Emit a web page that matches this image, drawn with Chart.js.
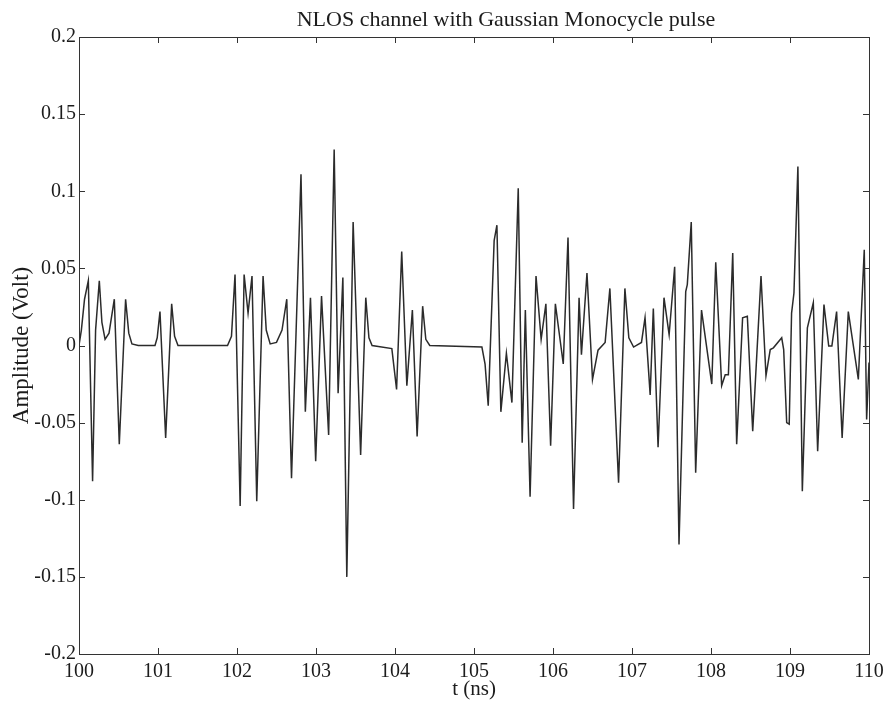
<!DOCTYPE html>
<html><head><meta charset="utf-8">
<script src="https://cdn.jsdelivr.net/npm/chart.js@4/dist/chart.umd.min.js"></script>
<style>html,body{margin:0;padding:0;background:#fff;}canvas{display:block;}</style>
</head><body>
<canvas id="c" width="894" height="713"></canvas>
<script>
const TITLE = 'NLOS channel with Gaussian Monocycle pulse';
const X_LABEL = 't (ns)';
const Y_LABEL = 'Amplitude (Volt)';
const xTickValues = [100,101,102,103,104,105,106,107,108,109,110];
const xTickLabels = ['100','101','102','103','104','105','106','107','108','109','110'];
const yTickValues = [-0.2,-0.15,-0.1,-0.05,0,0.05,0.1,0.15,0.2];
const yTickLabels = ['-0.2','-0.15','-0.1','-0.05','0','0.05','0.1','0.15','0.2'];

const tValues = [
100.00,100.03,100.07,100.118,100.172,100.21,100.257,100.29,100.33,100.38,100.447,100.51,100.59,100.63,100.67,100.75,
100.962,100.99,101.025,101.097,101.173,101.21,101.253,
101.88,101.93,101.975,102.04,102.09,102.14,102.19,102.25,102.33,102.37,102.42,102.50,102.57,102.63,102.69,102.81,
102.865,102.93,102.996,103.07,103.16,103.23,103.28,103.34,103.39,103.47,103.565,103.63,103.67,103.71,
103.96,104.02,104.085,104.15,104.22,104.28,104.35,104.39,104.44,
105.10,105.14,105.18,105.255,105.29,105.34,105.41,105.48,105.56,105.61,105.65,105.71,105.785,105.85,105.91,105.97,
106.03,106.13,106.19,106.26,106.33,106.36,106.43,106.50,106.57,106.66,106.72,106.83,106.91,106.96,107.02,107.12,
107.165,107.23,107.27,107.33,107.405,107.47,107.54,107.595,107.68,107.70,107.75,107.806,107.88,108.01,108.06,108.135,
108.18,108.22,108.275,108.325,108.40,108.46,108.528,108.633,108.696,108.75,108.79,108.895,108.92,108.958,108.99,
109.02,109.05,109.10,109.156,109.22,109.295,109.35,109.43,109.49,109.53,109.59,109.66,109.738,109.865,109.94,109.97,110.00
];
const ampValues = [
0.000,0.010,0.030,0.042,-0.088,0.010,0.042,0.015,0.004,0.008,0.030,-0.064,0.030,0.008,0.001,0.000,
0.000,0.005,0.022,-0.060,0.027,0.006,0.000,
0.000,0.006,0.046,-0.104,0.046,0.021,0.045,-0.101,0.045,0.010,0.001,0.002,0.010,0.030,-0.086,0.111,
-0.043,0.031,-0.075,0.032,-0.058,0.127,-0.031,0.044,-0.150,0.080,-0.071,0.031,0.005,0.000,
-0.002,-0.0285,0.061,-0.026,0.023,-0.059,0.0255,0.004,0.000,
-0.001,-0.012,-0.039,0.068,0.078,-0.043,-0.005,-0.037,0.102,-0.063,0.023,-0.098,0.045,0.004,0.027,-0.065,
0.027,-0.012,0.070,-0.106,0.031,-0.006,0.047,-0.022,-0.003,0.002,0.037,-0.089,0.037,0.005,-0.001,0.002,
0.018,-0.032,0.024,-0.066,0.031,0.007,0.051,-0.129,0.035,0.0395,0.080,-0.0825,0.023,-0.025,0.054,-0.026,
-0.019,-0.019,0.060,-0.064,0.018,0.019,-0.0555,0.045,-0.0195,-0.0026,-0.0015,0.005,-0.0026,-0.050,-0.051,
0.021,0.034,0.116,-0.0945,0.0115,0.0277,-0.0685,0.0266,-0.0004,-0.0004,0.022,-0.060,0.022,-0.022,0.062,-0.048,-0.011
];

const FONT = 'Liberation Serif, Times New Roman, serif';
const TEXT_COLOR = '#1c1c1c';

const framePlugin = {
  id: 'frame',
  afterDraw(chart) {
    const {ctx, chartArea: a, scales} = chart;
    ctx.save();
    ctx.strokeStyle = '#333';
    ctx.lineWidth = 1;
    ctx.strokeRect(a.left + 0.5, a.top + 0.5, a.right - a.left, a.bottom - a.top);
    const L = 6;
    ctx.beginPath();
    scales.x.ticks.forEach(t => {
      const px = Math.round(scales.x.getPixelForValue(t.value)) + 0.5;
      ctx.moveTo(px, a.bottom); ctx.lineTo(px, a.bottom - L);
      ctx.moveTo(px, a.top); ctx.lineTo(px, a.top + L);
    });
    scales.y.ticks.forEach(t => {
      const py = Math.round(scales.y.getPixelForValue(t.value)) + 0.5;
      ctx.moveTo(a.left, py); ctx.lineTo(a.left + L, py);
      ctx.moveTo(a.right, py); ctx.lineTo(a.right - L, py);
    });
    ctx.stroke();
    // title
    ctx.fillStyle = TEXT_COLOR;
    ctx.font = '22px ' + FONT;
    ctx.textAlign = 'center';
    ctx.textBaseline = 'middle';
    ctx.fillText(TITLE, (a.left + a.right) / 2 + 32, 20);
    ctx.restore();
  }
};

new Chart(document.getElementById('c'), {
  type: 'line',
  data: {
    datasets: [{
      data: tValues.map((t, i) => ({x: t, y: ampValues[i]})),
      borderColor: '#2b2b2b',
      borderWidth: 1.5,
      pointRadius: 0,
      tension: 0,
      fill: false
    }]
  },
  options: {
    responsive: false,
    animation: false,
    devicePixelRatio: 1,
    layout: {padding: {top: 37, left: 0, right: 25, bottom: 0}},
    plugins: {legend: {display: false}, title: {display: false}, tooltip: {enabled: false}},
    scales: {
      x: {
        type: 'linear', min: 100, max: 110,
        afterBuildTicks: s => { s.ticks = xTickValues.map(v => ({value: v})); },
        afterFit: s => { s.height = 59; },
        grid: {display: false, drawTicks: false},
        border: {display: false},
        ticks: {
          padding: 6, maxRotation: 0, autoSkip: false,
          color: TEXT_COLOR, font: {family: FONT, size: 20},
          callback: (v, i) => xTickLabels[i]
        },
        title: {display: true, text: X_LABEL, color: TEXT_COLOR, font: {family: FONT, size: 21}, padding: {top: 0, bottom: 11}}
      },
      y: {
        type: 'linear', min: -0.2, max: 0.2,
        afterBuildTicks: s => { s.ticks = yTickValues.map(v => ({value: v})); },
        afterFit: s => { s.width = 79; },
        grid: {display: false, drawTicks: false},
        border: {display: false},
        ticks: {
          padding: 3, autoSkip: false,
          color: TEXT_COLOR, font: {family: FONT, size: 20},
          callback: (v, i) => yTickLabels[i]
        },
        title: {display: true, text: Y_LABEL, color: TEXT_COLOR, font: {family: FONT, size: 23}, padding: {top: 8, bottom: 0}}
      }
    }
  },
  plugins: [framePlugin]
});
</script>
</body></html>
